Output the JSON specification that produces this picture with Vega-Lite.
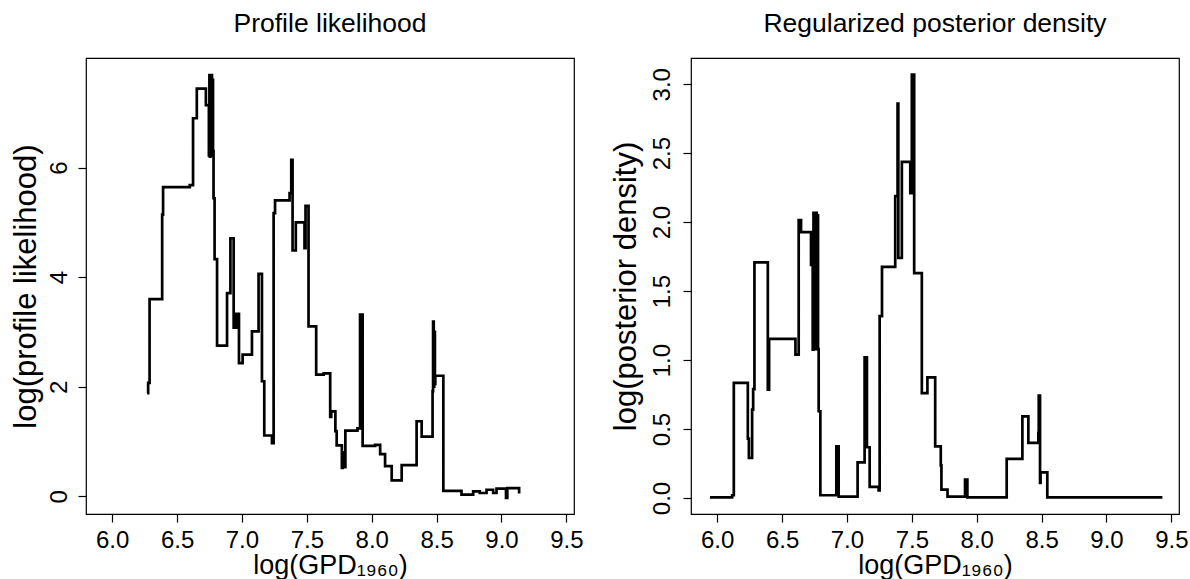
{
  "$schema": "https://vega.github.io/schema/vega-lite/v6.json",
  "padding": {"left": 9, "top": 9, "right": 0, "bottom": 0},
  "background": "white",
  "bounds": "flush",
  "spacing": 117,
  "datasets": {
    "profile": [
      {"x": 6.269, "y": 1.885}, {"x": 6.277, "y": 2.07}, {"x": 6.288, "y": 3.6}, {"x": 6.385, "y": 5.14},
      {"x": 6.392, "y": 5.645}, {"x": 6.598, "y": 5.68}, {"x": 6.623, "y": 6.9}, {"x": 6.652, "y": 7.44},
      {"x": 6.722, "y": 7.14}, {"x": 6.745, "y": 6.22}, {"x": 6.749, "y": 7.69}, {"x": 6.753, "y": 6.2},
      {"x": 6.757, "y": 7.65}, {"x": 6.761, "y": 6.25}, {"x": 6.765, "y": 7.69}, {"x": 6.769, "y": 6.22},
      {"x": 6.773, "y": 7.6}, {"x": 6.777, "y": 6.3}, {"x": 6.781, "y": 5.44}, {"x": 6.789, "y": 4.33},
      {"x": 6.808, "y": 2.75}, {"x": 6.885, "y": 3.71}, {"x": 6.911, "y": 4.71}, {"x": 6.936, "y": 3.08},
      {"x": 6.957, "y": 3.33}, {"x": 6.977, "y": 2.43}, {"x": 7.005, "y": 2.585}, {"x": 7.077, "y": 3.01},
      {"x": 7.128, "y": 4.06}, {"x": 7.154, "y": 2.1}, {"x": 7.172, "y": 1.11}, {"x": 7.231, "y": 0.97},
      {"x": 7.244, "y": 5.17}, {"x": 7.255, "y": 5.4}, {"x": 7.367, "y": 5.535}, {"x": 7.38, "y": 6.14},
      {"x": 7.39, "y": 4.49}, {"x": 7.415, "y": 5.0}, {"x": 7.482, "y": 4.53}, {"x": 7.49, "y": 5.3},
      {"x": 7.513, "y": 3.1}, {"x": 7.572, "y": 2.22}, {"x": 7.63, "y": 2.245}, {"x": 7.68, "y": 1.45},
      {"x": 7.688, "y": 1.55}, {"x": 7.72, "y": 1.19}, {"x": 7.73, "y": 0.93}, {"x": 7.77, "y": 0.52},
      {"x": 7.776, "y": 0.8}, {"x": 7.782, "y": 0.53}, {"x": 7.797, "y": 1.2}, {"x": 7.89, "y": 1.24},
      {"x": 7.91, "y": 3.315}, {"x": 7.93, "y": 0.92}, {"x": 8.026, "y": 0.94}, {"x": 8.065, "y": 0.77},
      {"x": 8.103, "y": 0.55}, {"x": 8.154, "y": 0.29}, {"x": 8.231, "y": 0.57}, {"x": 8.346, "y": 1.37},
      {"x": 8.385, "y": 1.09}, {"x": 8.469, "y": 1.92}, {"x": 8.473, "y": 3.19}, {"x": 8.478, "y": 2.0},
      {"x": 8.482, "y": 3.0}, {"x": 8.487, "y": 2.05}, {"x": 8.49, "y": 2.2}, {"x": 8.552, "y": 0.1},
      {"x": 8.692, "y": 0.03}, {"x": 8.782, "y": 0.09}, {"x": 8.833, "y": 0.06}, {"x": 8.885, "y": 0.12},
      {"x": 8.936, "y": 0.06}, {"x": 8.962, "y": 0.14}, {"x": 9.035, "y": -0.03}, {"x": 9.045, "y": 0.15},
      {"x": 9.136, "y": 0.05}
    ],
    "posterior": [
      {"x": 5.944, "y": 0.005}, {"x": 6.115, "y": 0.02}, {"x": 6.128, "y": 0.834}, {"x": 6.236, "y": 0.43},
      {"x": 6.244, "y": 0.29}, {"x": 6.269, "y": 0.64}, {"x": 6.277, "y": 0.79}, {"x": 6.287, "y": 1.709},
      {"x": 6.39, "y": 0.786}, {"x": 6.4, "y": 1.153}, {"x": 6.603, "y": 1.04}, {"x": 6.628, "y": 2.014},
      {"x": 6.646, "y": 1.927}, {"x": 6.723, "y": 1.69}, {"x": 6.736, "y": 1.076}, {"x": 6.742, "y": 2.067},
      {"x": 6.747, "y": 1.08}, {"x": 6.752, "y": 2.06}, {"x": 6.757, "y": 1.08}, {"x": 6.762, "y": 2.067},
      {"x": 6.767, "y": 1.08}, {"x": 6.772, "y": 2.05}, {"x": 6.777, "y": 1.08}, {"x": 6.782, "y": 0.629},
      {"x": 6.795, "y": 0.02}, {"x": 6.918, "y": 0.375}, {"x": 6.936, "y": 0.01}, {"x": 7.082, "y": 0.259},
      {"x": 7.136, "y": 1.02}, {"x": 7.154, "y": 0.368}, {"x": 7.175, "y": 0.08}, {"x": 7.244, "y": 0.055},
      {"x": 7.252, "y": 1.318}, {"x": 7.27, "y": 1.675}, {"x": 7.372, "y": 2.188}, {"x": 7.39, "y": 2.86},
      {"x": 7.396, "y": 1.74}, {"x": 7.423, "y": 2.437}, {"x": 7.488, "y": 2.21}, {"x": 7.5, "y": 3.07},
      {"x": 7.518, "y": 1.63}, {"x": 7.577, "y": 0.76}, {"x": 7.62, "y": 0.875}, {"x": 7.68, "y": 0.375},
      {"x": 7.723, "y": 0.237}, {"x": 7.728, "y": 0.06}, {"x": 7.775, "y": 0.01}, {"x": 7.91, "y": 0.133},
      {"x": 7.928, "y": 0.005}, {"x": 8.231, "y": 0.283}, {"x": 8.352, "y": 0.592}, {"x": 8.398, "y": 0.399},
      {"x": 8.475, "y": 0.47}, {"x": 8.478, "y": 0.742}, {"x": 8.488, "y": 0.109}, {"x": 8.492, "y": 0.186},
      {"x": 8.544, "y": 0.005}, {"x": 9.431, "y": 0.005}
    ]
  },
  "hconcat": [
    {
      "width": 488,
      "height": 456,
      "title": {"text": "Profile likelihood", "frame": "group", "anchor": "middle", "baseline": "alphabetic", "offset": 0},
      "data": {"name": "profile"},
      "mark": {"type": "line", "interpolate": "step-after", "color": "black", "strokeWidth": 2.7},
      "encoding": {
        "x": {
          "field": "x", "type": "quantitative",
          "scale": {"domain": [5.798, 9.559], "nice": false, "zero": false},
          "axis": {"values": [6, 6.5, 7, 7.5, 8, 8.5, 9, 9.5], "format": ".1f", "title": "log(GPD₁₉₆₀)",
                   "labelBaseline": "alphabetic", "labelPadding": 25, "titleBaseline": "alphabetic", "titleY": 59.5}
        },
        "y": {
          "field": "y", "type": "quantitative",
          "scale": {"domain": [-0.323, 8.0], "nice": false, "zero": false},
          "axis": {"values": [0, 2, 4, 6], "format": "d", "title": "log(profile likelihood)",
                   "labelAngle": -90, "labelAlign": "center", "labelBaseline": "alphabetic", "labelPadding": 12,
                   "titleFontSize": 31,
                   "titleAngle": -90, "titleAlign": "center", "titleBaseline": "alphabetic", "titleX": -51, "titleY": 228}
        }
      }
    },
    {
      "width": 488,
      "height": 456,
      "title": {"text": "Regularized posterior density", "frame": "group", "anchor": "middle", "baseline": "alphabetic", "offset": 0},
      "data": {"name": "posterior"},
      "mark": {"type": "line", "interpolate": "step-after", "color": "black", "strokeWidth": 2.7},
      "encoding": {
        "x": {
          "field": "x", "type": "quantitative",
          "scale": {"domain": [5.798, 9.559], "nice": false, "zero": false},
          "axis": {"values": [6, 6.5, 7, 7.5, 8, 8.5, 9, 9.5], "format": ".1f", "title": "log(GPD₁₉₆₀)",
                   "labelBaseline": "alphabetic", "labelPadding": 25, "titleBaseline": "alphabetic", "titleY": 59.5}
        },
        "y": {
          "field": "y", "type": "quantitative",
          "scale": {"domain": [-0.116, 3.19], "nice": false, "zero": false},
          "axis": {"values": [0, 0.5, 1, 1.5, 2, 2.5, 3], "format": ".1f", "title": "log(posterior density)",
                   "labelAngle": -90, "labelAlign": "center", "labelBaseline": "alphabetic", "labelPadding": 13.5,
                   "titleFontSize": 31,
                   "titleAngle": -90, "titleAlign": "center", "titleBaseline": "alphabetic", "titleX": -56, "titleY": 228}
        }
      }
    }
  ],
  "config": {
    "font": "Liberation Sans",
    "view": {"stroke": "black", "strokeWidth": 1.2},
    "axis": {
      "domain": false, "grid": false, "ticks": true, "tickColor": "black", "tickSize": 8, "tickWidth": 1.2,
      "labelColor": "black", "labelFontSize": 24, "labelFont": "Liberation Sans", "labelOverlap": false, "labelFlush": false,
      "titleFont": "Liberation Sans", "titleFontSize": 27, "titleFontWeight": "normal", "titleColor": "black"
    },
    "title": {"font": "Liberation Sans", "fontSize": 26.5, "fontWeight": "normal", "color": "black"}
  }
}
